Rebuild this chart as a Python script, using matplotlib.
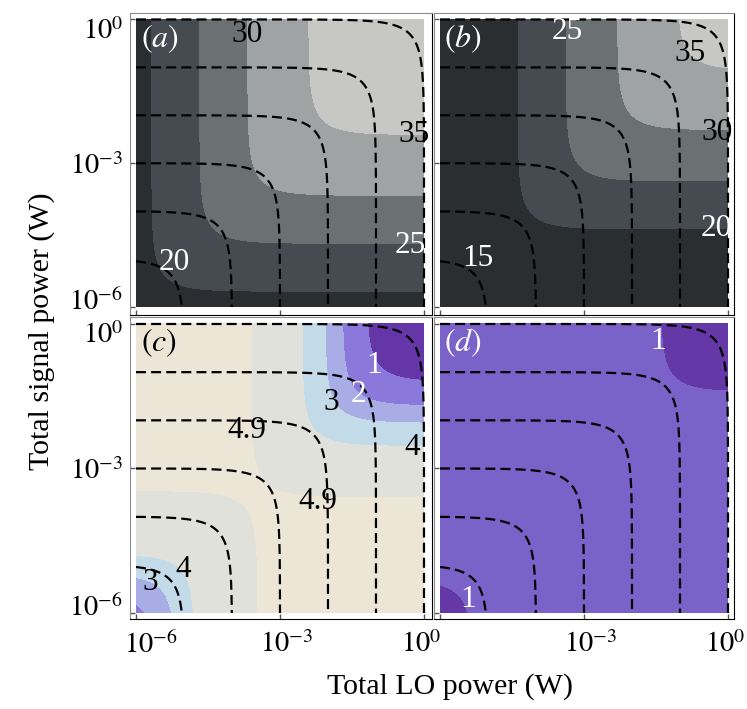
import numpy as np
import matplotlib
matplotlib.use("Agg")
import matplotlib.pyplot as plt
from matplotlib.transforms import ScaledTranslation

plt.rcParams["font.family"] = ["Liberation Serif", "DejaVu Serif"]
plt.rcParams["mathtext.fontset"] = "stix"
plt.rcParams["lines.dashed_pattern"] = [4.5, 2.3]

# axis ticks (W)
tick_vals = [1e-6, 1e-3, 1e0]
tick_text = [r"$10^{-6}$", r"$10^{-3}$", r"$10^{0}$"]

# dashed lines: total power LO + signal (W)
total_power = [1e-5, 1e-4, 1e-3, 1e-2, 1e-1, 1e0]

# (a), (b): contour values and the log10 combined power where each boundary sits
ab_levels = [20, 25, 30, 35]
a_edges = [-5.67, -4.67, -3.67, -2.40]
b_edges = [-4.37, -3.37, -2.30, -1.05]
gray_cols = ["#2b2e31", "#464b51", "#6b7073", "#a0a3a3", "#c7c8c3"]

# (c), (d): value drops below a level when the weaker power is too high
# (saturation edge) or the total power is too low (noise edge)
c_levels = [1, 2, 3, 4, 4.9]
c_high_edges = [-1.20, -1.70, -2.06, -2.54, -3.60]
c_low_edges = [-9.0, -5.60, -5.19, -4.78, -3.46]
c_cols = ["#6436a8", "#8a78da", "#a9ade6", "#c3dbe8", "#e1e1dc", "#ede6d6"]

d_levels = [1]
d_high_edges = [-1.41]
d_low_edges = [-5.32]
d_cols = ["#6538a8", "#7b62c8"]

# contour labels: text, log10 LO power, log10 signal power, colour
a_labels = [("30", -3.69, -0.32, "k"), ("35", -0.21, -2.39, "k"),
            ("25", -0.29, -4.72, "w"), ("20", -5.21, -5.07, "w")]
b_labels = [("25", -3.35, -0.26, "w"), ("35", -0.79, -0.72, "k"),
            ("30", -0.23, -2.36, "k"), ("20", -0.25, -4.36, "w"),
            ("15", -5.21, -4.99, "w")]
c_labels = [("1", -1.03, -0.87, "w"), ("2", -1.36, -1.47, "w"),
            ("3", -1.94, -1.62, "k"), ("4", -0.24, -2.57, "k"),
            ("4.9", -3.69, -2.22, "k"), ("4.9", -2.21, -3.69, "k"),
            ("3", -5.70, -5.37, "k"), ("4", -5.01, -5.10, "k")]
d_labels = [("1", -1.46, -0.37, "w"), ("1", -5.42, -5.72, "w")]

W, H = 747, 709
fig = plt.figure(figsize=(W / 100, H / 100), dpi=100)

# panel frames in pixels: left, right, top, bottom
frames = {"a": (130, 432, 13, 315), "b": (434, 734, 13, 315),
          "c": (130, 432, 317, 619), "d": (434, 734, 317, 619)}
xlims = {"a": (-6.125, 0.167), "b": (-6.125, 0.125),
         "c": (-6.125, 0.167), "d": (-6.125, 0.125)}
ylims = {"a": (-6.167, 0.135), "b": (-6.167, 0.135),
         "c": (-6.125, 0.145), "d": (-6.125, 0.145)}

# tick label nudges (px), like the original layout
x_shift = [15, 7, -3]
y_shift = [5, -3, -12]

lg = np.linspace(-6, 0, 700)
X, Y = np.meshgrid(10 ** lg, 10 ** lg)
S = np.log10(X * Y / (X + Y))   # weaker-power side (harmonic sum)
M = np.log10(X + Y)             # total power


def layered(ax, cols, hi, lo):
    ax.contourf(X, Y, S, levels=[-100, 100], colors=[cols[0]])
    for k in range(len(hi)):
        margin = np.minimum(hi[k] - S, M - lo[k])
        ax.contourf(X, Y, margin, levels=[0, 100], colors=[cols[k + 1]])


axes = {}
for key, (l, r, t, b) in frames.items():
    ax = fig.add_axes([l / W, 1 - b / H, (r - l) / W, (b - t) / H])
    axes[key] = ax

axes["a"].contourf(X, Y, S, levels=[-100] + a_edges + [100], colors=gray_cols)
axes["b"].contourf(X, Y, S, levels=[-100] + b_edges + [100], colors=gray_cols)
layered(axes["c"], c_cols, c_high_edges, c_low_edges)
layered(axes["d"], d_cols, d_high_edges, d_low_edges)

labels = {"a": a_labels, "b": b_labels, "c": c_labels, "d": d_labels}
tag_col = {"a": "w", "b": "w", "c": "k", "d": "w"}

for key, ax in axes.items():
    ax.contour(X, Y, X + Y, levels=total_power, colors="k",
               linestyles="--", linewidths=1.6)
    for txt, lx, ly, col in labels[key]:
        ax.text(10 ** lx, 10 ** ly, txt, ha="center", va="center",
                fontsize=22.5, color=col)
    ax.text(0.035, 0.97, r"$(%s)$" % key, transform=ax.transAxes,
            ha="left", va="top", fontsize=23, color=tag_col[key])

    ax.set_xscale("log")
    ax.set_yscale("log")
    ax.set_xlim(10 ** xlims[key][0], 10 ** xlims[key][1])
    ax.set_ylim(10 ** ylims[key][0], 10 ** ylims[key][1])
    ax.set_xticks(tick_vals)
    ax.set_yticks(tick_vals)
    xt = list(tick_text)
    if key == "d":
        xt[0] = ""
    ax.set_xticklabels(xt)
    ax.set_yticklabels(tick_text)
    ax.minorticks_off()
    ax.tick_params(direction="in", length=3.5, width=1, color="#555555",
                   labelsize=20.5, pad=5,
                   labelleft=key in "ac", labelbottom=key in "cd")
    ax.tick_params(axis="x", pad=9)
    for lab, dx in zip(ax.get_xticklabels(), x_shift):
        lab.set_transform(lab.get_transform() +
                          ScaledTranslation(dx / 100, 0, fig.dpi_scale_trans))
    for lab, dy in zip(ax.get_yticklabels(), y_shift):
        lab.set_verticalalignment("center")
        lab.set_transform(lab.get_transform() +
                          ScaledTranslation(0, dy / 100, fig.dpi_scale_trans))
    for side in ["top", "left"]:
        ax.spines[side].set_color("#8c8c8c")
    for side in ["bottom", "right"]:
        ax.spines[side].set_color("k")

fig.text(450 / W, 1 - 687 / H, "Total LO power (W)", ha="center",
         va="center", fontsize=21.5)
fig.text(42 / W, 1 - 331 / H, "Total signal power (W)", ha="center",
         va="center", rotation=90, fontsize=21.5)

fig.savefig("out.png", dpi=100)
